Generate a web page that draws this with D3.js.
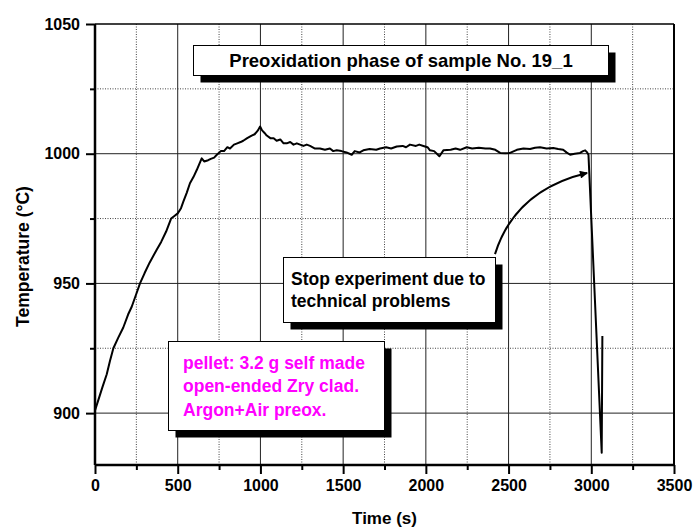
<!DOCTYPE html>
<html>
<head>
<meta charset="utf-8">
<script src="https://cdn.jsdelivr.net/npm/d3@7/dist/d3.min.js"></script>
<style>
  html, body { margin: 0; padding: 0; background: #fff; }
  svg { display: block; }
  text { font-family: "Liberation Sans", Arial, sans-serif; font-weight: bold; }
</style>
</head>
<body>
<svg id="chart" width="694" height="527"></svg>
<script>
// Temperature record of the preoxidation run, [time (s), temperature (°C)]
const timeSeconds = [0,20,45,71,90,111,140,171,200,222,250,272,300,330,373,400,430,460,480,500,520,534,555,574,595,615,645,660,684,700,720,735,760,780,800,816,840,860,880,896,920,947,965,985,998,1010,1025,1038,1060,1080,1098,1120,1140,1159,1180,1200,1220,1240,1260,1280,1300,1330,1360,1390,1420,1440,1461,1490,1520,1552,1570,1600,1622,1660,1700,1723,1760,1790,1824,1860,1880,1904,1940,1960,1985,2010,2025,2050,2082,2106,2150,2180,2207,2247,2280,2320,2360,2388,2420,2449,2480,2509,2550,2590,2630,2660,2690,2730,2770,2800,2830,2850,2872,2900,2932,2950,2963,2975,2983,3063,3067];
const temperature = [901,905,910,915,920,925,929,933,938,941,946,950,954,958,963,966,970,975,976,977,979,981.5,985,988.6,991,993.7,998.2,997,997.5,998,998.5,999.5,1001,1001,1002.5,1002,1003.5,1004,1004.5,1005,1006,1007,1007.5,1009,1010.5,1009,1008,1007,1006,1006,1005,1005.5,1004,1004,1004.5,1003.5,1004,1003.5,1003,1003.5,1003,1002,1002,1001.5,1002,1001,1001.3,1001,1000.5,999.6,1001,1000.5,1001.3,1001.8,1001.5,1002,1002.5,1002,1002.8,1003,1002.5,1003.5,1003,1003.5,1003,1002.5,1001.3,1001,999,1001.3,1001.5,1002,1001.5,1002.5,1002,1002.3,1002,1002,1001.5,1000.3,1000.2,1000.3,1001.5,1002,1001.8,1002.3,1002.5,1002,1002.2,1001.8,1001.5,1000.5,999.6,1000,1000.3,1001,1001.3,1000.5,999.6,884.7,929.7];

const xTicks = [0, 500, 1000, 1500, 2000, 2500, 3000, 3500];
const yTicks = [900, 950, 1000, 1050];
const xMinorTicks = [250, 750, 1250, 1750, 2250, 2750, 3250];
const yMinorTicks = [925, 975, 1025];

const titleText = "Preoxidation phase of sample No. 19_1";
const noteLines = ["Stop experiment due to", "technical problems"];
const sampleLines = ["pellet: 3.2 g self made", "open-ended Zry clad.", "Argon+Air preox."];

const svg = d3.select("#chart");
const margin = { left: 95, right: 20, top: 24, bottom: 62 };
const W = 694, H = 527;

const x = d3.scaleLinear().domain([0, 3500]).range([margin.left, W - margin.right]);
const y = d3.scaleLinear().domain([880, 1050]).range([H - margin.bottom, margin.top]);

const x0 = x(0), x1 = x(3500), y0 = y(880), y1 = y(1050);

// grid: dotted minor lines, solid major lines
const grid = svg.append("g");
grid.selectAll(".vminor").data(xMinorTicks).join("line")
  .attr("x1", d => x(d)).attr("x2", d => x(d)).attr("y1", y0).attr("y2", y1)
  .attr("stroke", "#444").attr("stroke-width", 1).attr("stroke-dasharray", "1,1.5");
grid.selectAll(".hminor").data(yMinorTicks).join("line")
  .attr("x1", x0).attr("x2", x1).attr("y1", d => y(d)).attr("y2", d => y(d))
  .attr("stroke", "#444").attr("stroke-width", 1).attr("stroke-dasharray", "1,1.5");
grid.selectAll(".vmajor").data(xTicks.slice(1, -1)).join("line")
  .attr("x1", d => x(d)).attr("x2", d => x(d)).attr("y1", y0).attr("y2", y1)
  .attr("stroke", "#222").attr("stroke-width", 1);
grid.selectAll(".hmajor").data(yTicks.slice(0, -1)).join("line")
  .attr("x1", x0).attr("x2", x1).attr("y1", d => y(d)).attr("y2", d => y(d))
  .attr("stroke", "#222").attr("stroke-width", 1);

// frame
svg.append("line").attr("x1", x0).attr("x2", x1).attr("y1", y1).attr("y2", y1)
  .attr("stroke", "#000").attr("stroke-width", 1.5);
svg.append("line").attr("x1", x1).attr("x2", x1).attr("y1", y1).attr("y2", y0)
  .attr("stroke", "#000").attr("stroke-width", 2);

// axes
const xAxis = d3.axisBottom(x).tickValues(xTicks).tickSize(9).tickPadding(6).tickFormat(d3.format("d"));
const xAxisMinor = d3.axisBottom(x).tickValues(xMinorTicks).tickSize(5).tickFormat("");
const yAxis = d3.axisLeft(y).tickValues(yTicks).tickSize(9).tickPadding(6).tickFormat(d3.format("d"));
const yAxisMinor = d3.axisLeft(y).tickValues(yMinorTicks).tickSize(5).tickFormat("");

function styleAxis(g) {
  g.select(".domain").remove();
  g.selectAll(".tick line").attr("stroke", "#000").attr("stroke-width", 2);
  g.selectAll(".tick text").attr("fill", "#000").style("font-size", "16px")
    .style("font-weight", "bold").style("font-family", "'Liberation Sans', Arial, sans-serif");
}
svg.append("g").attr("transform", `translate(0,${y0})`).call(xAxisMinor).call(styleAxis);
svg.append("g").attr("transform", `translate(0,${y0})`).call(xAxis).call(styleAxis);
svg.append("g").attr("transform", `translate(${x0},0)`).call(yAxisMinor).call(styleAxis);
svg.append("g").attr("transform", `translate(${x0},0)`).call(yAxis).call(styleAxis);

svg.append("line").attr("x1", x0).attr("x2", x1).attr("y1", y0).attr("y2", y0)
  .attr("stroke", "#000").attr("stroke-width", 2.5);
svg.append("line").attr("x1", x0).attr("x2", x0).attr("y1", y0).attr("y2", y1)
  .attr("stroke", "#000").attr("stroke-width", 2.5);

// axis titles
svg.append("text").attr("x", (x0 + x1) / 2).attr("y", 524).attr("text-anchor", "middle")
  .style("font-size", "17px").text("Time (s)");
svg.append("text").attr("transform", `translate(29,${(y0 + y1) / 2 + 12}) rotate(-90)`)
  .attr("text-anchor", "middle").style("font-size", "17.5px").text("Temperature (°C)");

// temperature trace
const points = timeSeconds.map((t, i) => [t, temperature[i]]);
svg.append("path").datum(points)
  .attr("fill", "none").attr("stroke", "#000").attr("stroke-width", 2).attr("stroke-linejoin", "round")
  .attr("d", d3.line().x(d => x(d[0])).y(d => y(d[1])));

// text box with a solid drop shadow
function shadowBox(bx, by, bw, bh, off) {
  const g = svg.append("g");
  g.append("rect").attr("x", bx + off).attr("y", by + off).attr("width", bw).attr("height", bh).attr("fill", "#000");
  g.append("rect").attr("x", bx).attr("y", by).attr("width", bw).attr("height", bh)
    .attr("fill", "#fff").attr("stroke", "#000").attr("stroke-width", 1);
  return g;
}

// title box
const tb = shadowBox(193.5, 45.5, 415, 30, 7);
tb.append("text").attr("x", 193.5 + 415 / 2).attr("y", 66.5).attr("text-anchor", "middle")
  .style("font-size", "18.5px").attr("fill", "#000").text(titleText);

// note box with arrow to the end of the run
const nb = shadowBox(283.5, 257.5, 212, 65, 7);
nb.selectAll("text").data(noteLines).join("text")
  .attr("x", 291).attr("y", (d, i) => 285 + i * 21.5)
  .style("font-size", "17.5px").attr("fill", "#000").text(d => d);

svg.append("defs").append("marker").attr("id", "arrowhead")
  .attr("viewBox", "0 0 10 10").attr("refX", 9).attr("refY", 5)
  .attr("markerWidth", 10).attr("markerHeight", 8).attr("markerUnits", "userSpaceOnUse").attr("orient", "auto")
  .append("path").attr("d", "M0,0 L10,5 L0,10 z").attr("fill", "#000");
const arrowPath = d3.path();
arrowPath.moveTo(x(2418), y(961.3));
arrowPath.quadraticCurveTo(x(2539), y(986), x(2975), y(992.6));
svg.append("path").attr("d", arrowPath.toString()).attr("fill", "none")
  .attr("stroke", "#000").attr("stroke-width", 2).attr("marker-end", "url(#arrowhead)");

// sample description box
const sb = shadowBox(168.5, 341.5, 216, 89, 7);
sb.selectAll("text").data(sampleLines).join("text")
  .attr("x", 183).attr("y", (d, i) => 369 + i * 23.3)
  .style("font-size", "17.5px").attr("fill", "#ff00ff").text(d => d);
</script>
</body>
</html>
